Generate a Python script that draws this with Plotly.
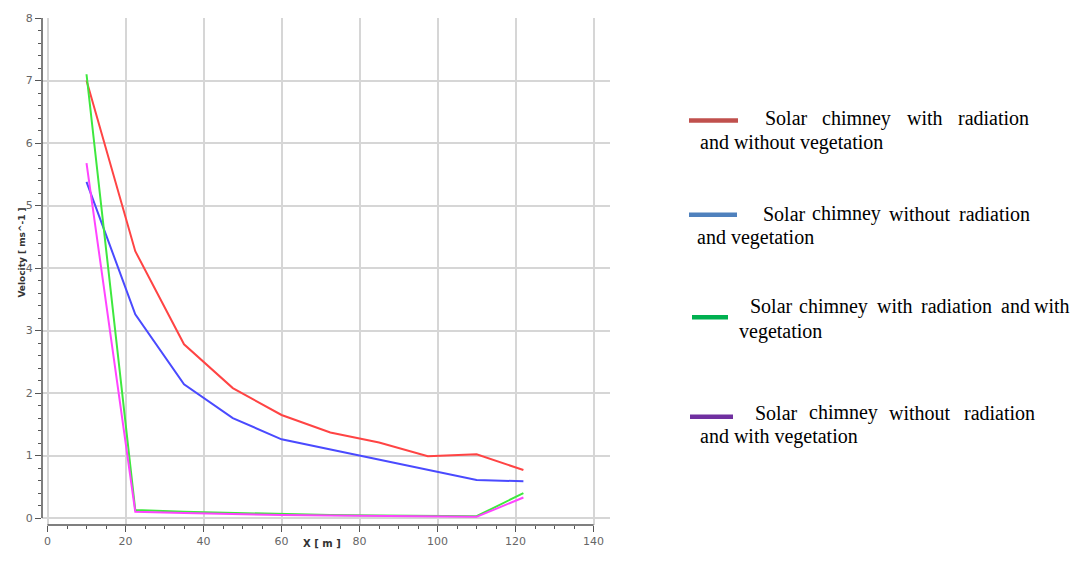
import plotly.graph_objects as go

# Distance along the domain [m]
x_m = [10, 22.5, 35, 47.5, 60, 72.5, 85, 97.5, 110, 122]

# Velocity [m/s] for each case
rad_no_veg = [7.00, 4.27, 2.78, 2.08, 1.65, 1.37, 1.21, 0.99, 1.02, 0.77]
no_rad_no_veg = [5.38, 3.26, 2.14, 1.60, 1.26, 1.10, 0.94, 0.78, 0.61, 0.59]
rad_veg = [7.10, 0.13, 0.10, 0.08, 0.06, 0.05, 0.04, 0.04, 0.03, 0.40]
no_rad_veg = [5.68, 0.10, 0.08, 0.06, 0.05, 0.04, 0.03, 0.03, 0.02, 0.33]

series = [
    ("Solar chimney with radiation and without vegetation", rad_no_veg, "#ff4444"),
    ("Solar chimney without radiation and vegetation", no_rad_no_veg, "#4a4aff"),
    ("Solar chimney with radiation and with vegetation", rad_veg, "#3ee83e"),
    ("Solar chimney without radiation and with vegetation", no_rad_veg, "#ff44ff"),
]

x_ticks = [0, 20, 40, 60, 80, 100, 120, 140]
y_ticks = [0, 1, 2, 3, 4, 5, 6, 7, 8]

W, H = 1077, 563
ML, MR, MT, MB = 42, 467, 15, 38
PW, PH = W - ML - MR, H - MT - MB


def px(x):
    return (x - ML) / PW


def py(y):
    return (H - MB - y) / PH


fig = go.Figure()
for name, vals, col in series:
    fig.add_trace(go.Scatter(x=x_m, y=vals, mode="lines", name=name,
                             line=dict(color=col, width=2)))

tick_font = dict(family="DejaVu Sans", size=11, color="#666666")
fig.update_xaxes(range=[-1.41, 144.2], tickvals=x_ticks, ticks="outside",
                 ticklen=6, tickcolor="#555555", tickwidth=1.2,
                 showgrid=True, gridcolor="#d6d6d6", gridwidth=1.5,
                 zeroline=False, showline=False, tickfont=tick_font,
                 minor=dict(dtick=5, tick0=0, ticks="outside", ticklen=3,
                            tickcolor="#555555", showgrid=False))
fig.update_yaxes(range=[-0.11, 8.0], tickvals=y_ticks, ticks="outside",
                 ticklen=6, tickcolor="#555555", tickwidth=1.2,
                 showgrid=True, gridcolor="#d6d6d6", gridwidth=1.5,
                 zeroline=False, showline=False, tickfont=tick_font,
                 minor=dict(dtick=0.2, tick0=0, ticks="outside", ticklen=3,
                            tickcolor="#555555", showgrid=False))

# separated axis lines
fig.add_shape(type="line", xref="x", yref="paper", x0=0, x1=140, y0=0, y1=0,
              line=dict(color="#555555", width=1.5))
fig.add_shape(type="line", xref="paper", yref="y", x0=0, x1=0, y0=0, y1=8,
              line=dict(color="#555555", width=1.5))

annotations = [
    dict(text="<b>X [ m ]</b>", x=px(322), y=py(551), xref="paper", yref="paper",
         showarrow=False, font=dict(family="DejaVu Sans", size=10, color="#333333")),
    dict(text="<b>Velocity [ ms^-1 ]</b>", x=px(15), y=py(251), xref="paper",
         yref="paper", showarrow=False, textangle=-90,
         font=dict(family="DejaVu Sans", size=9, color="#333333")),
]

# legend panel on the right: swatch + justified text
legend_rows = [
    ("#c0504d", (689, 738, 118),
     [(["Solar", "chimney", "with", "radiation"], [763, 820, 905, 956], 116),
      (["and without vegetation"], [698], 140)]),
    ("#4f81bd", (689, 737, 213),
     [(["Solar", "chimney", "without", "radiation"], [761, 810, 887, 957], 212),
      (["and vegetation"], [695], 236)]),
    ("#00b050", (692, 728, 316),
     [(["Solar", "chimney", "with", "radiation", "and", "with"],
       [748, 797, 875, 919, 999, 1032], 305),
      (["vegetation"], [737], 330)]),
    ("#7030a0", (690, 733, 416),
     [(["Solar", "chimney", "without", "radiation"], [753, 807, 887, 962], 412),
      (["and with vegetation"], [698], 436)]),
]
for col, (sx0, sx1, sy), lines in legend_rows:
    fig.add_shape(type="line", xref="paper", yref="paper", x0=px(sx0), x1=px(sx1),
                  y0=py(sy), y1=py(sy), line=dict(color=col, width=4.5))
    for words, xs, ly in lines:
        for w, wx in zip(words, xs):
            annotations.append(dict(text=w, x=px(wx), y=py(ly), xref="paper",
                                    yref="paper", xanchor="left", yanchor="middle",
                                    showarrow=False,
                                    font=dict(family="Liberation Serif", size=20,
                                              color="#000000")))

fig.update_layout(width=W, height=H, margin=dict(l=ML, r=MR, t=MT, b=MB),
                  plot_bgcolor="white", paper_bgcolor="white", showlegend=False,
                  annotations=annotations)

fig.write_html("out.html")
